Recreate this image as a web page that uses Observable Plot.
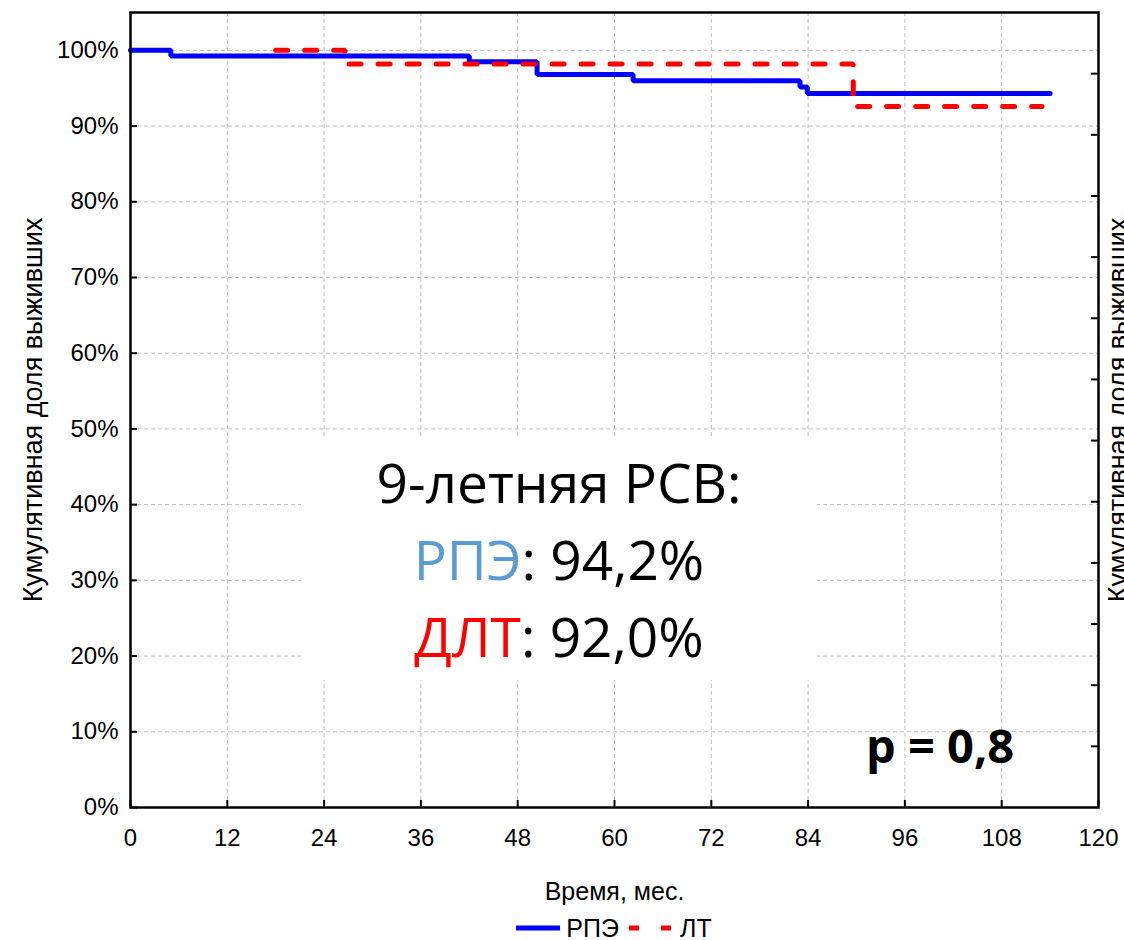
<!DOCTYPE html>
<html>
<head>
<meta charset="utf-8">
<script src="https://cdn.jsdelivr.net/npm/d3@7"></script>
<script src="https://cdn.jsdelivr.net/npm/@observablehq/plot@0.6"></script>
<style>
  html, body { margin: 0; padding: 0; background: #fff; }
  #wrap { position: relative; width: 1124px; height: 940px; overflow: hidden; }
  #box { position: absolute; left: 301px; top: 437px; width: 516px; height: 243px; background: #fff;
         font-family: "Open Sans", "Noto Sans", sans-serif; font-size: 55px; line-height: 77px;
         text-align: center; color: #000; box-sizing: border-box; padding-top: 6px; white-space: nowrap; }
  #pval { position: absolute; left: 866px; top: 722px; font-family: "Open Sans", "Noto Sans", sans-serif;
          font-weight: bold; font-size: 47px; line-height: 47px; color: #000; white-space: nowrap; }
  #legend { position: absolute; left: 130px; width: 968px; top: 914px; height: 28px; display: flex;
            justify-content: center; align-items: center; font-family: "Liberation Sans", Arial, sans-serif;
            font-size: 25px; color: #000; }
  #legend svg { display: block; }
</style>
</head>
<body>
<div id="wrap"></div>
<script>
// ---- data ----
const rpeTime = [0, 5, 42, 50.4, 62.3, 83, 83.9, 114];
const rpeSurv = [1.0, 0.9925, 0.985, 0.968, 0.960, 0.9515, 0.943, 0.943];
const ltTime  = [18, 26.6, 89.6, 113];
const ltSurv  = [1.0, 0.982, 0.926, 0.926];

const seriesNames = ["РПЭ", "ЛТ"];
const xTicks = [0, 12, 24, 36, 48, 60, 72, 84, 96, 108, 120];
const yTicks = [0, 0.1, 0.2, 0.3, 0.4, 0.5, 0.6, 0.7, 0.8, 0.9, 1.0];
const yTickLabels = ["0%", "10%", "20%", "30%", "40%", "50%", "60%", "70%", "80%", "90%", "100%"];
const xTitle = "Время, мес.";
const yTitle = "Кумулятивная доля выживших";
const boxLines = ["9-летняя РСВ:", "РПЭ: 94,2%", "ДЛТ: 92,0%"];
const pText = "p = 0,8";

// ---- tables ----
const rpe = rpeTime.map((t, i) => ({t, s: rpeSurv[i]}));
const lt = ltTime.map((t, i) => ({t, s: ltSurv[i]}));

const yMax = 1.05;
const plotH = 940 - 12 - 133;
const plotW = 1124 - 130 - 26;
const tickPxY = 7 * yMax / plotH;     // 7px inward ticks, in data units
const tickPxX = 7 * 120 / plotW;
// secondary (unlabelled) right axis: 13 equal intervals of the frame
const rightTicks = d3.range(1, 13).map(k => k * yMax / 13);

const gridStyle = {stroke: "#bcbcbc", strokeOpacity: 1, strokeWidth: 1, strokeDasharray: "4,3"};

const chart = Plot.plot({
  width: 1124,
  height: 940,
  marginLeft: 130,
  marginRight: 26,
  marginTop: 12,
  marginBottom: 133,
  x: {domain: [0, 120]},
  y: {domain: [0, yMax]},
  style: {fontFamily: "'Liberation Sans', Arial, sans-serif", fontSize: "24px", color: "#000", background: "#fff"},
  marks: [
    Plot.gridX(xTicks.slice(1, -1), gridStyle),
    Plot.gridY(yTicks.slice(1), gridStyle),
    Plot.axisX(xTicks, {tickSize: 0, tickPadding: 21, fontSize: 24, label: null}),
    Plot.axisY(yTicks, {tickSize: 0, tickPadding: 12, fontSize: 24, label: null,
                        tickFormat: (d) => yTickLabels[yTicks.indexOf(d)]}),
    // inward ticks
    Plot.ruleX(xTicks, {y1: 0, y2: tickPxY, stroke: "#000", strokeWidth: 2}),
    Plot.ruleY(yTicks, {x1: 0, x2: tickPxX, stroke: "#000", strokeWidth: 2}),
    Plot.ruleY(rightTicks, {x1: 120 - tickPxX, x2: 120, stroke: "#000", strokeWidth: 2}),
    // curves
    Plot.line(rpe, {x: "t", y: "s", curve: "step-after", stroke: "#0000ff", strokeWidth: 5, strokeLinejoin: "miter"}),
    Plot.line(lt, {x: "t", y: "s", curve: "step-after", stroke: "#ff0000", strokeWidth: 5,
                   strokeDasharray: "12,17", strokeLinejoin: "miter"}),
    Plot.frame({stroke: "#000", strokeWidth: 2.5}),
    // axis titles
    Plot.text([xTitle], {frameAnchor: "bottom", dy: 84, fontSize: 25, lineAnchor: "middle"}),
    Plot.text([yTitle], {frameAnchor: "left", dx: -97, rotate: -90, fontSize: 27, lineAnchor: "middle", textAnchor: "middle"}),
    Plot.text([yTitle], {frameAnchor: "right", dx: 20, rotate: -90, fontSize: 27, lineAnchor: "middle", textAnchor: "middle"})
  ]
});

const wrap = document.getElementById("wrap");
wrap.appendChild(chart);

// annotation box
const box = document.createElement("div");
box.id = "box";
box.innerHTML =
  `<div>${boxLines[0]}</div>` +
  `<div><span style="color:#5b9bd5">${boxLines[1].split(":")[0]}</span>:${boxLines[1].split(":")[1]}</div>` +
  `<div><span style="color:#ff0000">${boxLines[2].split(":")[0]}</span>:${boxLines[2].split(":")[1]}</div>`;
wrap.appendChild(box);

const p = document.createElement("div");
p.id = "pval";
p.textContent = pText;
wrap.appendChild(p);

// legend
const legend = document.createElement("div");
legend.id = "legend";
legend.innerHTML =
  `<svg width="44" height="10"><line x1="0" y1="5" x2="44" y2="5" stroke="#0000ff" stroke-width="5"/></svg>` +
  `<span style="margin:0 10px 0 6px">${seriesNames[0]}</span>` +
  `<svg width="42" height="10"><line x1="0" y1="5" x2="42" y2="5" stroke="#ff0000" stroke-width="5" stroke-dasharray="10,22"/></svg>` +
  `<span style="margin-left:9px">${seriesNames[1]}</span>`;
wrap.appendChild(legend);
</script>
</body>
</html>
